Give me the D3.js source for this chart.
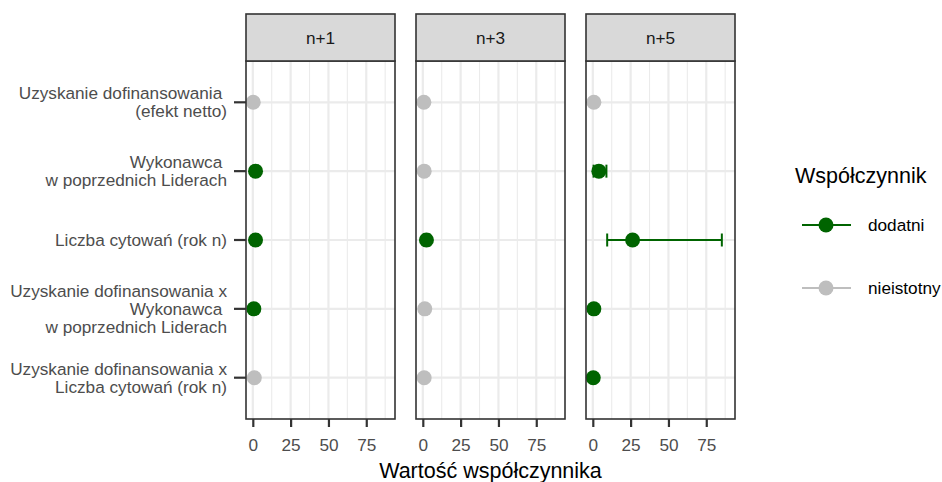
<!DOCTYPE html>
<html><head><meta charset="utf-8">
<script src="https://cdn.jsdelivr.net/npm/d3@7"></script>
<style>body{margin:0;background:#fff}text{font-family:"Liberation Sans",Arial,sans-serif}</style>
</head><body><svg id="c" width="942" height="482"></svg>
<script>
const categories = [
  ["Uzyskanie dofinansowania ", "(efekt netto)"],
  ["Wykonawca ", "w poprzednich Liderach"],
  ["Liczba cytowań (rok n)"],
  ["Uzyskanie dofinansowania x", "Wykonawca ", "w poprzednich Liderach"],
  ["Uzyskanie dofinansowania x", "Liczba cytowań (rok n)"]
];
const panels = ["n+1", "n+3", "n+5"];
const estN1 = [0.3, 1.8, 1.8, 0.7, 1.0];
const estN3 = [0.7, 0.9, 2.4, 1.3, 0.9];
const estN5 = [0.7, 4.0, 26.3, 0.7, 0.3];
const loN1 = [0.0, 0.5, 0.5, 0.0, 0.0];
const loN3 = [0.0, 0.0, 0.5, 0.0, 0.0];
const loN5 = [0.0, 0.5, 9.5, 0.0, 0.0];
const hiN1 = [1.5, 3.5, 3.5, 2.0, 2.5];
const hiN3 = [2.0, 2.0, 4.5, 2.5, 2.0];
const hiN5 = [2.0, 9.0, 85.3, 2.0, 1.5];
const sigN1 = ["nieistotny", "dodatni", "dodatni", "dodatni", "nieistotny"];
const sigN3 = ["nieistotny", "nieistotny", "dodatni", "nieistotny", "nieistotny"];
const sigN5 = ["nieistotny", "dodatni", "dodatni", "dodatni", "dodatni"];
const xTicks = [0, 25, 50, 75];
const legendLevels = ["dodatni", "nieistotny"];

const est = [estN1, estN3, estN5], lo = [loN1, loN3, loN5], hi = [hiN1, hiN3, hiN5], sig = [sigN1, sigN3, sigN5];
const color = d3.scaleOrdinal().domain(legendLevels).range(["#006400", "#BEBEBE"]);

const svg = d3.select("#c");
const panelLeft = [246, 416, 586], pw = 149;
const pTop = 61, pBottom = 419, stripTop = 14;
const y = d3.scalePoint().domain(d3.range(categories.length)).range([pTop, pBottom]).padding(0.6);
const fs = 17.2;

panels.forEach((p, pi) => {
  const x0 = panelLeft[pi];
  const x = d3.scaleLinear().domain([-4.5, 94]).range([x0, x0 + pw]);
  const g = svg.append("g");
  [12.5, 37.5, 62.5, 87.5].forEach(v => g.append("line").attr("x1", x(v)).attr("x2", x(v)).attr("y1", pTop).attr("y2", pBottom).attr("stroke", "#EBEBEB").attr("stroke-width", 1.1));
  xTicks.forEach(v => g.append("line").attr("x1", x(v)).attr("x2", x(v)).attr("y1", pTop).attr("y2", pBottom).attr("stroke", "#EBEBEB").attr("stroke-width", 2.2));
  categories.forEach((c, i) => g.append("line").attr("x1", x0).attr("x2", x0 + pw).attr("y1", y(i)).attr("y2", y(i)).attr("stroke", "#EBEBEB").attr("stroke-width", 2.2));
  categories.forEach((c, i) => {
    const col = color(sig[pi][i]);
    const yy = y(i);
    g.append("line").attr("x1", x(lo[pi][i])).attr("x2", x(hi[pi][i])).attr("y1", yy).attr("y2", yy).attr("stroke", col).attr("stroke-width", 2);
    [lo[pi][i], hi[pi][i]].forEach(v => g.append("line").attr("x1", x(v)).attr("x2", x(v)).attr("y1", yy - 6.5).attr("y2", yy + 6.5).attr("stroke", col).attr("stroke-width", 2));
  });
  categories.forEach((c, i) => g.append("circle").attr("cx", x(est[pi][i])).attr("cy", y(i)).attr("r", 7.5).attr("fill", color(sig[pi][i])));
  g.append("rect").attr("x", x0).attr("y", pTop).attr("width", pw).attr("height", pBottom - pTop).attr("fill", "none").attr("stroke", "#333333").attr("stroke-width", 1.6);
  g.append("rect").attr("x", x0).attr("y", stripTop).attr("width", pw).attr("height", pTop - stripTop).attr("fill", "#D9D9D9").attr("stroke", "#333333").attr("stroke-width", 1.6);
  g.append("text").attr("x", x0 + pw / 2).attr("y", (stripTop + pTop) / 2).attr("dy", "0.35em").attr("text-anchor", "middle").attr("font-size", fs).attr("fill", "#1A1A1A").text(p);
  const ax = svg.append("g").attr("transform", `translate(0,${pBottom})`).call(d3.axisBottom(x).tickValues(xTicks).tickSize(8).tickPadding(10).tickFormat(d3.format("d")));
  ax.select(".domain").remove();
  ax.selectAll(".tick line").attr("stroke", "#333333").attr("stroke-width", 2.2);
  ax.selectAll(".tick text").attr("y", 26).attr("dy", "0.35em").attr("font-size", fs).attr("fill", "#4D4D4D").attr("font-family", "Liberation Sans, Arial, sans-serif");
});

const ya = svg.append("g");
categories.forEach((lines, i) => {
  ya.append("line").attr("x1", 234).attr("x2", panelLeft[0]).attr("y1", y(i)).attr("y2", y(i)).attr("stroke", "#333333").attr("stroke-width", 2.2);
  const lh = 18;
  const t = ya.append("text").attr("text-anchor", "end").attr("font-size", fs).attr("fill", "#4D4D4D").attr("xml:space", "preserve").style("white-space", "pre");
  lines.forEach((l, k) => t.append("tspan").attr("x", 227).attr("y", y(i) + (k - (lines.length - 1) / 2) * lh).attr("dy", "0.35em").text(l));
});

svg.append("text").attr("x", (panelLeft[0] + panelLeft[2] + pw) / 2).attr("y", 470).attr("dy", "0.35em").attr("text-anchor", "middle").attr("font-size", 21.5).attr("fill", "#000").text("Wartość współczynnika");

const lg = svg.append("g");
lg.append("text").attr("x", 795).attr("y", 175).attr("dy", "0.35em").attr("font-size", 21.5).attr("fill", "#000").text("Współczynnik");
legendLevels.forEach((lv, i) => {
  const yy = 225 + i * 63;
  lg.append("line").attr("x1", 802).attr("x2", 851).attr("y1", yy).attr("y2", yy).attr("stroke", color(lv)).attr("stroke-width", 2);
  lg.append("circle").attr("cx", 826).attr("cy", yy).attr("r", 7.5).attr("fill", color(lv));
  lg.append("text").attr("x", 868).attr("y", yy).attr("dy", "0.35em").attr("font-size", fs).attr("fill", "#000").text(lv);
});
</script></body></html>
